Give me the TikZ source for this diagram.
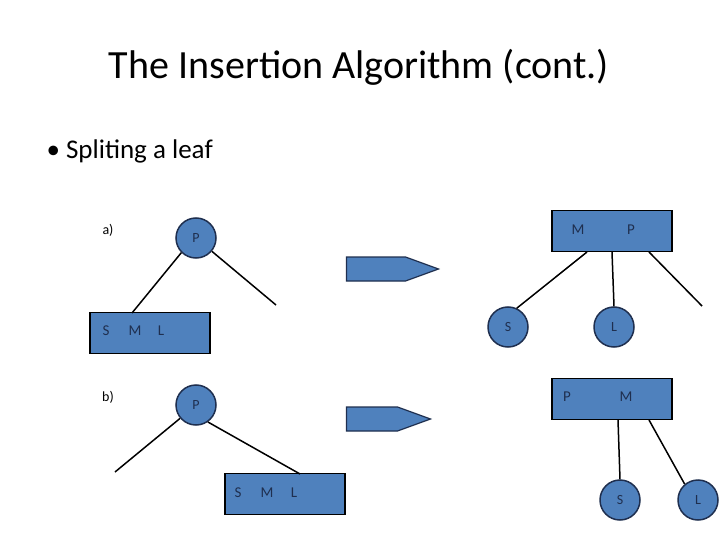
\documentclass[tikz,border=0pt]{standalone}
\usepackage{fontspec}
\setmainfont{Carlito}
\usetikzlibrary{shapes.misc,shapes.arrows}
\definecolor{boxfill}{HTML}{4F81BD}
\definecolor{boxline}{HTML}{1F2F4F}
\tikzset{
    keynode/.style = {circle, draw=boxline, fill=boxfill, line width=1.5pt, minimum size=40pt, inner sep=0pt, font=\fontsize{14}{16}\selectfont, text=boxline},
    leafbox/.style = {chamfered rectangle, chamfered rectangle xsep=10pt, chamfered rectangle ysep=10pt, draw=black, fill=boxfill, line width=1.5pt, minimum width=120pt, minimum height=41pt, inner sep=0pt},
    key/.style = {font=\fontsize{15}{17}\selectfont, text=boxline},
    link/.style = {draw=black, line width=1.5pt},
    bigarrow/.style = {single arrow, draw=boxline, fill=boxfill, line width=1.2pt, minimum height=92pt, minimum width=24pt, single arrow head extend=0pt, single arrow tip angle=40, inner sep=5pt},
    caption/.style = {font=\fontsize{14}{16}\selectfont}
}
\begin{document}
\begin{tikzpicture}[x=1pt, y=-1pt]
    \useasboundingbox (0,0) rectangle (720,540);
    % title and bullet
    \node (title) at (359,67) {\fontsize{40}{46}\selectfont The Insertion Algorithm (cont.)};
    \node[anchor=west] (bullet) at (43,151) {\fontsize{27}{32}\selectfont \textbullet\ Spliting a leaf};

    % case a
    \node[caption] (capa) at (108,230) {a)};
    \node[keynode] (pa) at (196,238) {P};
    \node[leafbox] (sml) at (150,333) {};
    \node[key] at (106,331) {S};
    \node[key] at (135,331) {M};
    \node[key] at (161,331) {L};
    \coordinate (pa-r) at (276,305);
    \draw[link] (pa.225) -- (132,313);
    \draw[link] (pa.-40) -- (pa-r);
    \node[bigarrow] (arra) at (376,269) {};

    \node[leafbox] (mp) at (612,231) {};
    \node[key] at (578,230) {M};
    \node[key] at (631,230) {P};
    \node[keynode] (s1) at (508,327) {S};
    \node[keynode] (l1) at (614,327) {L};
    \coordinate (mp-r) at (702,306);
    \draw[link] (587,252) -- (s1.65);
    \draw[link] (612,252) -- (l1.north);
    \draw[link] (649,252) -- (mp-r);

    % case b
    \node[caption] (capb) at (108,397) {b)};
    \node[keynode] (pb) at (196,405) {P};
    \node[leafbox] (smlb) at (285,494) {};
    \node[key] at (238,493) {S};
    \node[key] at (267,493) {M};
    \node[key] at (294,493) {L};
    \coordinate (pb-l) at (115,472);
    \draw[link] (pb.220) -- (pb-l);
    \draw[link] (pb.-55) -- (300,474);
    \node[bigarrow, minimum height=84pt] (arrb) at (372,419) {};

    \node[leafbox] (pm) at (612,399) {};
    \node[key] at (567,397) {P};
    \node[key] at (626,397) {M};
    \node[keynode] (s2) at (620,500) {S};
    \node[keynode] (l2) at (698,500) {L};
    \draw[link] (618,420) -- (s2.north);
    \draw[link] (649,420) -- (l2.130);
\end{tikzpicture}
\end{document}
